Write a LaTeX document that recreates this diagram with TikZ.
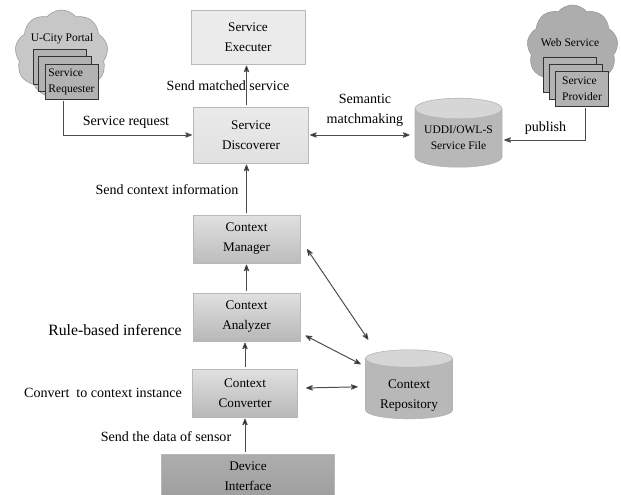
\documentclass[tikz,border=0pt]{standalone}
\usepackage{fontspec}
\setmainfont{Liberation Serif}
\usetikzlibrary{arrows.meta, positioning, shapes.geometric, shapes.symbols}
\definecolor{edgegray}{gray}{0.72}
\definecolor{linegray}{gray}{0.3}
\newcommand*{\boxfont}{\fontsize{9.4}{14.2}\selectfont}
\newcommand*{\smallfont}{\fontsize{8.2}{11.5}\selectfont}
\begin{document}
\begin{tikzpicture}[shorten >=1pt,shorten <=1pt,node distance=1cm,on grid,>={Stealth[round]},
      svcbox/.style={rectangle,draw=edgegray,align=center,inner sep=0pt,minimum width=2.675cm,minimum height=1.2cm,font=\boxfont},
      stack/.style={rectangle,draw=black!80,fill=black!30,align=left,inner sep=0pt,minimum width=1.325cm,minimum height=.875cm,font=\smallfont},
      puffs/.style={cloud,cloud puffs=9,cloud puff arc=100,aspect=1.1,draw=black!40,inner sep=0pt},
      store/.style={cylinder,shape border rotate=90,aspect=.3,draw=black!30,minimum width=2.175cm,minimum height=1.725cm,inner sep=0pt,align=center,cylinder uses custom fill,cylinder body fill=black!28,cylinder end fill=black!16},
      label/.style={font=\fontsize{10}{14.2}\selectfont,align=center,inner sep=0pt},
      link/.style={draw=linegray,line width=.7pt}]
      \useasboundingbox (0,0) rectangle (15.525,-12.35);
      \node[svcbox, top color=black!8, bottom color=black!12, minimum width=2.875cm, minimum height=1.4cm] (disc) at (6.275,-3.375) {Service\\Discoverer};
      \node[svcbox, top color=black!8, bottom color=black!8, minimum width=2.85cm, minimum height=1.35cm] (exec) [above left=2.45cm and .075cm of disc] {Service\\Executer};
      \node[svcbox, top color=black!12, bottom color=black!26] (mgr) [below left=2.6cm and .1125cm of disc] {Context\\Manager};
      \node[svcbox, top color=black!12, bottom color=black!28] (ana) [below=1.95cm of mgr] {Context\\Analyzer};
      \node[svcbox, top color=black!12, bottom color=black!28, minimum width=2.625cm] (conv) [below left=1.9cm and .0375cm of ana] {Context\\Converter};
      \node[svcbox, top color=black!32, bottom color=black!38, minimum width=4.325cm, minimum height=1.1cm] (dev) [below right=2.075cm and .075cm of conv] {Device\\Interface};
      \node[store, font=\boxfont] (repo) at (10.225,-9.72) {\raisebox{-.125cm}[\height][0pt]{Context}\\\raisebox{-.125cm}[\height][0pt]{Repository}};
      \node[store, font=\smallfont] (udd) at (11.4625,-3.45) {UDDI/OWL-S\\Service File};
      \node[puffs, fill=black!22, minimum width=2.325cm, minimum height=2.2cm] (portal) at (1.5375,-1.35) {};
      \node[stack] (req_1) at (1.4875,-1.675) {};
      \node[stack] (req_2) [below right=.1625cm and .1375cm of req_1] {};
      \node[stack] (req_3) [below right=.2cm and .1625cm of req_2] {Service\\Requester};
      \node[label, font=\smallfont] (portal_t) at (1.55,-.975) {U-City Portal};
      \node[puffs, fill=black!32, minimum width=2.275cm, minimum height=2.15cm] (web) at (14.3125,-1.2) {};
      \node[stack] (prov_1) at (14.25,-1.8625) {};
      \node[stack] (prov_2) [below right=.175cm and .15cm of prov_1] {};
      \node[stack] (prov_3) [below right=.175cm and .15cm of prov_2] {Service\\Provider};
      \node[label, font=\smallfont] (web_t) at (14.25,-1.075) {Web Service};
      \draw[->, link] ([xshift=-.2cm]req_3.south) |- (disc.west);
      \draw[->, link] ([xshift=.075cm]prov_3.south) |- ([shift={(1.11,-.05)}]udd.center);
      \path[link]
      (mgr.north |- disc.north) edge[->] (mgr.north |- exec.south)
      (mgr.north) edge[->] (mgr.north |- disc.south)
      (ana.north) edge[->] (mgr.south)
      (conv.north) edge[->] (conv.north |- ana.south)
      (conv.south |- dev.north) edge[->] (conv.south)
      (disc.east) edge[<->] ([shift={(-1.19,.075)}]udd.center)
      ([shift={(.15,-.225)}]mgr.east) edge[<->] ([shift={(-1,1.2)}]repo.center)
      ([shift={(.1,-.45)}]ana.east) edge[<->] ([shift={(-1.175,.6)}]repo.center)
      ([shift={(.175,.125)}]conv.east) edge[<->] ([shift={(-1.25,.05)}]repo.center);
      \node[label] (send_exec) [above left=1.225cm and .575cm of disc] {Send matched service};
      \node[label] (send_req) [above left=.325cm and 3.125cm of disc] {Service request};
      \node[label] (send_ctx) [below left=1.375cm and 2.1cm of disc] {Send context information};
      \node[label] (match) [above right=.625cm and 2.85cm of disc] {Semantic\\matchmaking};
      \node[label] (publish) [above right=.25cm and 2.175cm of udd] {publish};
      \node[label, font=\fontsize{11.2}{14.2}\selectfont] (rule) [below left=.325cm and 3.2875cm of ana] {Rule-based inference};
      \node[label] (inst) [left=3.55cm of conv] {Convert\ \ to context instance};
      \node[label] (sensor) [above left=.975cm and 2.05cm of dev] {Send the data of sensor};
\end{tikzpicture}
\end{document}
